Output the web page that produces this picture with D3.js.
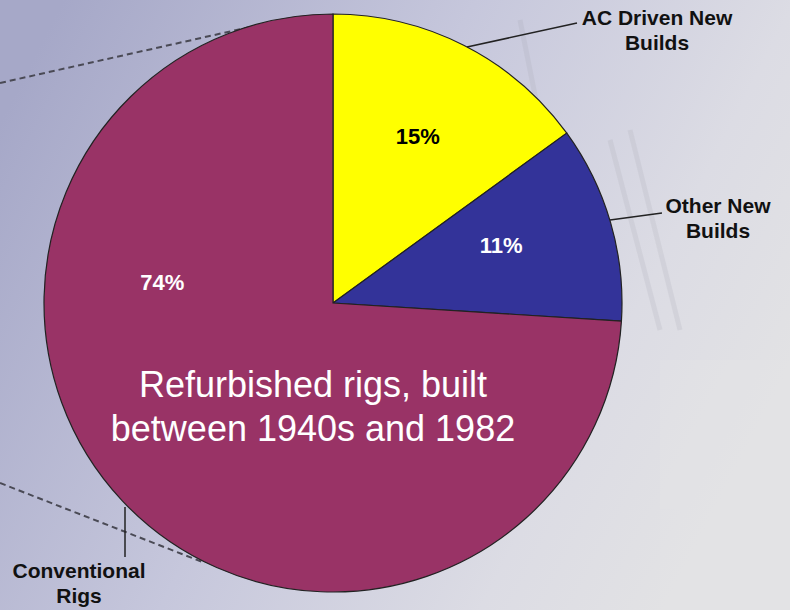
<!DOCTYPE html>
<html>
<head>
<meta charset="utf-8">
<script src="https://cdn.jsdelivr.net/npm/d3@7"></script>
<style>
  body { margin: 0; padding: 0; overflow: hidden; }
  svg { display: block; font-family: Arial, "Liberation Sans", sans-serif; }
</style>
</head>
<body>
<div class="plot"></div>
<script>
// slice data, clockwise from 12 o'clock
let categories = ["AC Driven New Builds", "Other New Builds", "Conventional Rigs"]
let shares = [15, 11, 74]
let sliceColors = ["#ffff00", "#333399", "#993366"]
let pctColors = ["#000000", "#ffffff", "#ffffff"]
let outerLabels = [["AC Driven New", "Builds"], ["Other New", "Builds"], ["Conventional", "Rigs"]]
let noteLines = ["Refurbished rigs, built", "between 1940s and 1982"]

let width = 790, height = 610
let cx = 333, cy = 303, radius = 289

let svg = d3.select(".plot")
  .append("svg")
  .attr("width", width)
  .attr("height", height)

// background gradient
let defs = svg.append("defs")
let grad = defs.append("linearGradient")
  .attr("id", "bg")
  .attr("x1", "0%").attr("y1", "20%")
  .attr("x2", "100%").attr("y2", "60%")
grad.append("stop").attr("offset", "0%").attr("stop-color", "#a6a8c8")
grad.append("stop").attr("offset", "45%").attr("stop-color", "#c6c7dc")
grad.append("stop").attr("offset", "80%").attr("stop-color", "#dcdce4")
grad.append("stop").attr("offset", "100%").attr("stop-color", "#e2e2e4")
svg.append("rect")
  .attr("width", width)
  .attr("height", height)
  .attr("fill", "url(#bg)")

// faint rig shapes behind
let ghost = svg.append("g").attr("opacity", 0.12)
ghost.append("path")
  .attr("d", "M610,140 L660,330 M630,130 L680,330 M520,20 L540,120")
  .attr("stroke", "#8a8a98").attr("stroke-width", 5).attr("fill", "none")
ghost.append("rect")
  .attr("x", 660).attr("y", 360).attr("width", 130).attr("height", 250)
  .attr("fill", "#f0f0f0")

// dashed guide lines
svg.append("line")
  .attr("x1", 0).attr("y1", 83).attr("x2", 250).attr("y2", 27)
  .attr("stroke", "#4a4a55").attr("stroke-width", 2).attr("stroke-dasharray", "6,4")
svg.append("line")
  .attr("x1", 0).attr("y1", 483).attr("x2", 205).attr("y2", 563)
  .attr("stroke", "#4a4a55").attr("stroke-width", 2).attr("stroke-dasharray", "6,4")

let pie = d3.pie().sort(null).value(d => d)
let arcs = pie(shares)
let arc = d3.arc().innerRadius(0).outerRadius(radius)

let g = svg.append("g")
  .attr("transform", "translate(" + cx + "," + cy + ")")

g.selectAll(".slice")
  .data(arcs)
  .enter()
  .append("path")
  .attr("class", "slice")
  .attr("d", arc)
  .attr("fill", (d, i) => sliceColors[i])
  .attr("stroke", "#222")
  .attr("stroke-width", 1.2)

// percent labels; last one sits up-left instead of at the slice middle
let labelRadius = [187, 178, 172]
let labelAngle = function(d, i){
  if(i == 2) return 1.5 * Math.PI + 0.12
  return (d.startAngle + d.endAngle) / 2 - (i == 1 ? 0.05 : 0)
}
g.selectAll(".pct")
  .data(arcs)
  .enter()
  .append("text")
  .attr("class", "pct")
  .attr("x", (d, i) => Math.sin(labelAngle(d, i)) * labelRadius[i])
  .attr("y", (d, i) => -Math.cos(labelAngle(d, i)) * labelRadius[i])
  .attr("dy", "0.35em")
  .attr("text-anchor", "middle")
  .attr("font-size", 22)
  .attr("font-weight", "bold")
  .attr("fill", (d, i) => pctColors[i])
  .text(d => d.value + "%")

// note inside big slice
g.selectAll(".note")
  .data(noteLines)
  .enter()
  .append("text")
  .attr("class", "note")
  .attr("x", -20)
  .attr("y", (d, i) => 94 + i * 44)
  .attr("text-anchor", "middle")
  .attr("font-size", 36)
  .attr("fill", "#ffffff")
  .text(d => d)

// leader lines and outside labels
let leaders = [
  {pts: [[467, 47], [577, 23]], tx: 657, ty: 25},
  {pts: [[610, 220], [662, 213]], tx: 718, ty: 213},
  {pts: [[125, 507], [125, 557]], tx: 79, ty: 578}
]
leaders.forEach(function(l, i){
  svg.append("path")
    .attr("d", d3.line()(l.pts))
    .attr("stroke", "#222")
    .attr("stroke-width", 1.5)
    .attr("fill", "none")
  let t = svg.append("text")
    .attr("text-anchor", "middle")
    .attr("font-size", 21)
    .attr("font-weight", "bold")
    .attr("fill", "#111")
  outerLabels[i].forEach(function(s, j){
    t.append("tspan")
      .attr("x", l.tx)
      .attr("y", l.ty + j * 25)
      .text(s)
  })
})
</script>
</body>
</html>
